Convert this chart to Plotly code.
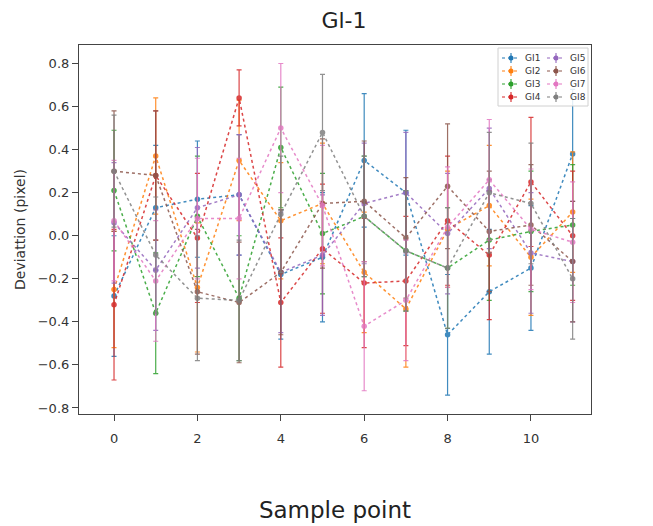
import plotly.graph_objects as go

# sample points on the x axis
sample_points = list(range(12))

names = ["GI1", "GI2", "GI3", "GI4", "GI5", "GI6", "GI7", "GI8"]
colors = ["#1f77b4", "#ff7f0e", "#2ca02c", "#d62728",
          "#9467bd", "#8c564b", "#e377c2", "#7f7f7f"]

# mean deviation per sample point
gi1 = [-0.28, 0.13, 0.17, 0.19, -0.18, -0.10, 0.35, 0.20, -0.46, -0.26, -0.15, 0.38]
gi2 = [-0.25, 0.37, -0.24, 0.35, 0.07, 0.15, -0.17, -0.34, 0.03, 0.14, -0.10, 0.11]
gi3 = [0.21, -0.36, 0.09, -0.29, 0.41, 0.01, 0.09, -0.07, -0.15, -0.02, 0.02, 0.05]
gi4 = [-0.32, 0.28, -0.01, 0.64, -0.31, -0.06, -0.22, -0.21, 0.07, -0.09, 0.25, 0.00]
gi5 = [0.06, -0.16, 0.13, 0.19, -0.17, -0.09, 0.15, 0.20, 0.01, 0.22, -0.08, -0.12]
gi6 = [0.30, 0.28, -0.26, -0.31, -0.17, 0.15, 0.16, -0.01, 0.23, 0.02, 0.05, -0.12]
gi7 = [0.07, -0.21, 0.08, 0.08, 0.50, 0.14, -0.42, -0.30, 0.04, 0.26, 0.03, -0.03]
gi8 = [0.30, -0.09, -0.29, -0.30, 0.10, 0.48, 0.09, -0.07, -0.15, 0.20, 0.15, -0.20]

# standard deviation (error bar half length)
gi1_err = [0.28, 0.29, 0.27, 0.28, 0.30, 0.30, 0.31, 0.29, 0.28, 0.29, 0.29, 0.30]
gi2_err = [0.27, 0.27, 0.30, 0.28, 0.27, 0.28, 0.28, 0.27, 0.27, 0.28, 0.27, 0.28]
gi3_err = [0.28, 0.28, 0.28, 0.29, 0.28, 0.28, 0.28, 0.28, 0.28, 0.28, 0.28, 0.28]
gi4_err = [0.35, 0.30, 0.30, 0.13, 0.30, 0.30, 0.30, 0.30, 0.30, 0.30, 0.30, 0.30]
gi5_err = [0.28, 0.28, 0.28, 0.28, 0.28, 0.28, 0.28, 0.28, 0.28, 0.28, 0.28, 0.28]
gi6_err = [0.28, 0.30, 0.29, 0.28, 0.29, 0.30, 0.28, 0.28, 0.29, 0.28, 0.28, 0.28]
gi7_err = [0.28, 0.28, 0.28, 0.28, 0.30, 0.28, 0.30, 0.28, 0.28, 0.28, 0.28, 0.28]
gi8_err = [0.26, 0.27, 0.29, 0.28, 0.27, 0.27, 0.28, 0.28, 0.28, 0.28, 0.28, 0.28]

series = [gi1, gi2, gi3, gi4, gi5, gi6, gi7, gi8]
errors = [gi1_err, gi2_err, gi3_err, gi4_err, gi5_err, gi6_err, gi7_err, gi8_err]

# plot area in pixels
W, H = 653, 526
L, R, T, B = 71, 583, 37, 406


def px(x):
    return (x - L) / (R - L)


def py(y):
    return (B - y) / (B - T)


fig = go.Figure()

for i, (name, y, err) in enumerate(zip(names, series, errors)):
    fig.add_trace(go.Scatter(
        x=sample_points, y=y, name=name,
        mode="lines+markers",
        line=dict(color=colors[i], width=1.5, dash="dot"),
        marker=dict(color=colors[i], size=5.5),
        error_y=dict(type="data", array=err, visible=True,
                     color=colors[i], thickness=1.2, width=2.5),
        opacity=0.85,
        showlegend=False,
    ))

# matplotlib-like legend, two columns, drawn by hand so the rows stay tight
shapes = [dict(type="rect", xref="paper", yref="paper",
               x0=px(490), x1=px(580), y0=py(98), y1=py(40),
               line=dict(color="#d0d0d0", width=1),
               fillcolor="rgba(255,255,255,0.85)", layer="above")]
annotations = []
for i, name in enumerate(names):
    col, row = divmod(i, 4)
    gx = 503 + col * 45
    gy = 50 + row * 13
    c = colors[i]
    shapes.append(dict(type="line", xref="paper", yref="paper",
                       x0=px(gx - 9), x1=px(gx + 9), y0=py(gy), y1=py(gy),
                       line=dict(color=c, width=1.2, dash="dot"), layer="above"))
    shapes.append(dict(type="line", xref="paper", yref="paper",
                       x0=px(gx), x1=px(gx), y0=py(gy - 5), y1=py(gy + 5),
                       line=dict(color=c, width=1.1), layer="above"))
    shapes.append(dict(type="circle", xref="paper", yref="paper",
                       x0=px(gx - 2.5), x1=px(gx + 2.5), y0=py(gy + 2.5), y1=py(gy - 2.5),
                       line=dict(color=c, width=0), fillcolor=c, layer="above"))
    annotations.append(dict(text=name, xref="paper", yref="paper",
                            x=px(gx + 12), y=py(gy), xanchor="left", yanchor="middle",
                            showarrow=False,
                            font=dict(family="DejaVu Sans", size=9, color="#333")))

fig.update_layout(
    width=W, height=H,
    margin=dict(l=L, r=W - R, t=T, b=H - B, pad=0),
    paper_bgcolor="white", plot_bgcolor="white",
    title=dict(text="Gl-1", xref="paper", x=px(336), xanchor="center",
               yref="container", y=1 - 12 / H, yanchor="middle",
               font=dict(family="DejaVu Sans", size=22, color="#222")),
    showlegend=False,
    shapes=shapes,
    annotations=annotations,
    font=dict(family="DejaVu Sans", color="#333"),
)

fig.update_xaxes(
    range=[-0.84, 11.44], tickvals=[0, 2, 4, 6, 8, 10],
    ticks="outside", ticklen=6, tickcolor="#444", ticklabelstandoff=6,
    showgrid=False, zeroline=False,
    showline=True, linecolor="#444", linewidth=1.2, mirror=True,
    tickfont=dict(size=13, color="#333"),
    title=dict(text="Sample point", font=dict(size=23, color="#222"), standoff=57),
)
fig.update_yaxes(
    range=[-0.828, 0.886], tickvals=[-0.8, -0.6, -0.4, -0.2, 0.0, 0.2, 0.4, 0.6, 0.8],
    ticktext=["\u22120.8", "\u22120.6", "\u22120.4", "\u22120.2", "0.0", "0.2", "0.4", "0.6", "0.8"],
    ticks="outside", ticklen=6, tickcolor="#444",
    showgrid=False, zeroline=False,
    showline=True, linecolor="#444", linewidth=1.2, mirror=True,
    tickfont=dict(size=13, color="#333"),
    title=dict(text="Deviattion (pixel)", font=dict(size=14, color="#333"), standoff=8),
)

fig.write_html("out.html")
